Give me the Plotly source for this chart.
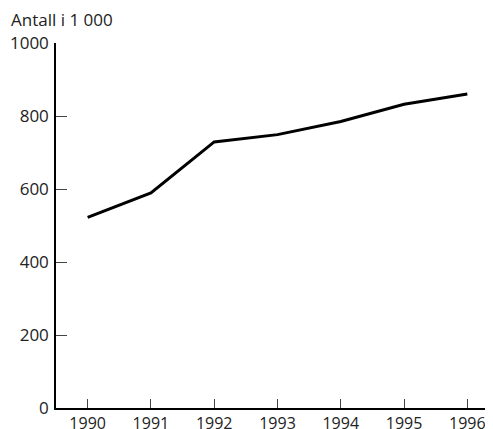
import plotly.graph_objects as go

years = [1990, 1991, 1992, 1993, 1994, 1995, 1996]
values = [522, 589, 729, 749, 785, 832, 860]
y_ticks = [0, 200, 400, 600, 800, 1000]
y_title = "Antall i 1 000"

fig = go.Figure()
fig.add_trace(go.Scatter(x=years, y=values, mode="lines",
                         line=dict(color="#000000", width=3),
                         hoverinfo="skip", showlegend=False))

font = dict(family="Open Sans, Noto Sans, sans-serif", size=17, color="#222222")
xfont = dict(family="Open Sans, Noto Sans, sans-serif", size=16, color="#222222")

# page body has an 8px margin, so the figure is sized to fit the 493x429 window
fig.update_layout(
    width=485, height=421,
    margin=dict(l=48, r=1, t=35, b=21, autoexpand=False),
    paper_bgcolor="white", plot_bgcolor="white",
    font=font,
    xaxis=dict(range=[1989.5, 1996.39], tickvals=years, ticktext=[str(y) for y in years],
               showgrid=False, zeroline=False, showline=True, linecolor="#000000", linewidth=1.5,
               ticks="inside", ticklen=9, tickcolor="#444444", tickwidth=1,
               tickfont=xfont, ticklabelstandoff=0, fixedrange=True, automargin=False),
    yaxis=dict(range=[0, 1000], tickvals=y_ticks, ticktext=[str(v) for v in y_ticks],
               showgrid=False, zeroline=False, showline=True, linecolor="#000000", linewidth=1.5,
               ticks="inside", ticklen=11, tickcolor="#444444", tickwidth=1,
               tickfont=font, ticklabelstandoff=2, fixedrange=True, automargin=False),
    annotations=[dict(text=y_title, xref="paper", yref="paper", x=-47/436, y=1,
                      yshift=24, xanchor="left", yanchor="middle",
                      showarrow=False, font=font)],
)

fig.write_html("out.html")
